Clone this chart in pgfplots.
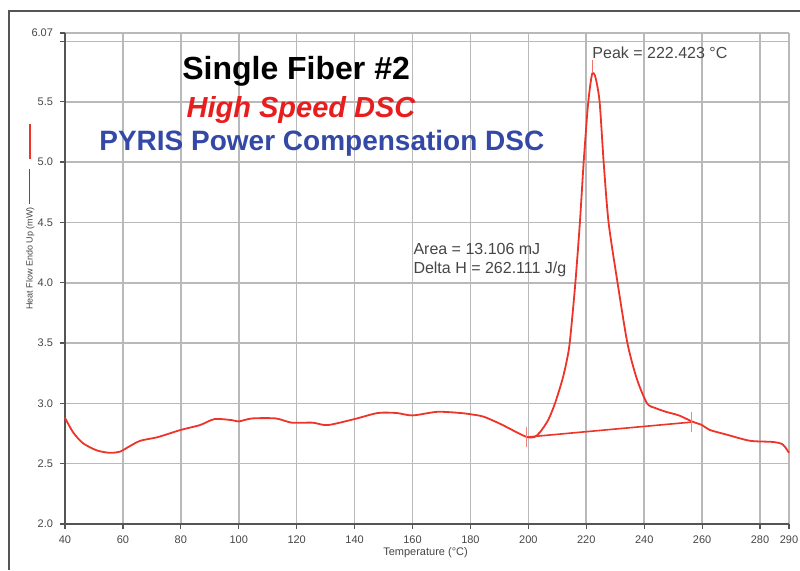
\documentclass[border=0pt]{standalone}
\usepackage{pgfplots}
\pgfplotsset{compat=1.18}
\usepackage{fontspec}
\setmainfont{Liberation Sans}
\definecolor{curvered}{RGB}{238,52,40}
\definecolor{titlered}{RGB}{232,30,30}
\definecolor{titleblue}{RGB}{52,72,165}
\definecolor{axisgray}{RGB}{85,85,85}
\definecolor{gridgray}{RGB}{185,185,185}
\definecolor{textgray}{RGB}{70,70,70}

\begin{document}
\begin{tikzpicture}
\begin{axis}[
  name=ax,
  scale only axis,
  width=362pt, height=245.5pt,
  xmin=40, xmax=290,
  ymin=2, ymax=6.07,
  axis lines*=left,
  axis line style={axisgray, line width=1pt},
  xtick={40,60,80,100,120,140,160,180,200,220,240,260,280,290},
  xticklabels={40,60,80,100,120,140,160,180,200,220,240,260,280,290},
  ytick={2,2.5,3,3.5,4,4.5,5,5.5,6,6.07},
  yticklabels={2.0,2.5,3.0,3.5,4.0,4.5,5.0,5.5,{},6.07},
  tick align=outside,
  major tick length=2.5pt,
  tick style={axisgray, line width=0.6pt},
  tick label style={font=\fontsize{5.5}{6}\selectfont, text=textgray},
  xmajorgrids, ymajorgrids,
  grid style={gridgray, line width=0.8pt},
  xlabel={Temperature (°C)},
  xlabel style={at={(rel axis cs:0.498,0)}, anchor=center, yshift=-14.5pt,
    font=\fontsize{5.5}{6}\selectfont, text=textgray},
  clip=false,
]
% DSC curve
\addplot[curvered, line width=0.9pt, smooth, tension=0.45] coordinates {
  (40,2.88) (42.8,2.76) (46.2,2.67) (51,2.61) (55.5,2.59) (59,2.60)
  (62,2.64) (66,2.69) (72,2.72) (80,2.78) (86.6,2.82) (91.7,2.87)
  (97.9,2.86) (100,2.85) (104.6,2.875) (112.8,2.875) (118.3,2.84)
  (125.5,2.84) (130.7,2.82) (140,2.87) (148,2.92) (154.5,2.92)
  (160,2.90) (168.6,2.93) (176.6,2.92) (180,2.91) (184.5,2.89)
  (190.3,2.83) (196,2.76) (199.6,2.72) (202,2.72) (204,2.76)
  (206.8,2.86) (209.2,3.0) (212,3.22) (214,3.45) (215.3,3.75)
  (216.4,4.05) (217.8,4.5) (219.1,5.0) (220.5,5.45) (221.5,5.66) (222.2,5.74)
  (223.2,5.70) (224.6,5.5) (226.0,5.0) (227.7,4.5) (230.8,4.0)
  (234.2,3.5) (237.5,3.2) (241,3.0) (244,2.96) (247.5,2.93)
  (252,2.90) (256.5,2.85) (260,2.82) (262.6,2.78) (268.6,2.74)
  (276.5,2.69) (284.4,2.68) (287.8,2.66) (290,2.59)
};
% integration baseline and limits
\addplot[curvered, line width=0.8pt] coordinates {(199.3,2.72) (256.5,2.845)};
\addplot[curvered!60, line width=0.5pt] coordinates {(199.3,2.64) (199.3,2.80)};
\addplot[curvered!60, line width=0.5pt] coordinates {(256.5,2.76) (256.5,2.93)};
\addplot[curvered!70, line width=0.5pt] coordinates {(222.2,5.74) (222.2,5.85)};

\node[font=\fontsize{16}{18}\selectfont\bfseries] at (axis cs:119.8,5.75) {Single Fiber \#2};
\node[font=\fontsize{14.5}{16}\selectfont\bfseries\itshape, text=titlered] at (axis cs:121.5,5.43) {High Speed DSC};
\node[font=\fontsize{14}{16}\selectfont\bfseries, text=titleblue] at (axis cs:128.7,5.16) {PYRIS Power Compensation DSC};

\node[font=\fontsize{8}{9}\selectfont, text=textgray, anchor=base west, inner sep=0pt]
  at (axis cs:222.0,5.86) {Peak = 222.423 °C};
\node[font=\fontsize{8}{9}\selectfont, text=textgray, anchor=base west, inner sep=0pt]
  at (axis cs:160.2,4.23) {Area = 13.106 mJ};
\node[font=\fontsize{8}{9}\selectfont, text=textgray, anchor=base west, inner sep=0pt]
  at (axis cs:160.2,4.08) {Delta H = 262.111 J/g};

\node[rotate=90, inner sep=0pt, font=\fontsize{4.5}{5}\selectfont, text=textgray]
  at (rel axis cs:-0.048,0.625)
  {Heat Flow Endo Up (mW)\hspace{1.5pt}\textcolor{axisgray}{\rule[1.2pt]{17.5pt}{0.5pt}}\hspace{5pt}\textcolor{curvered}{\rule[1.0pt]{17.5pt}{1pt}}};
\end{axis}
\pgfresetboundingbox
\path[use as bounding box] ([xshift=-32.5pt,yshift=-23pt]ax.south west) rectangle ([xshift=5.5pt,yshift=16.5pt]ax.north east);
\draw[line width=1pt, axisgray] ([xshift=-28pt,yshift=-23pt]ax.south west) |- ([xshift=5.5pt,yshift=11pt]ax.north east);
\end{tikzpicture}
\end{document}
